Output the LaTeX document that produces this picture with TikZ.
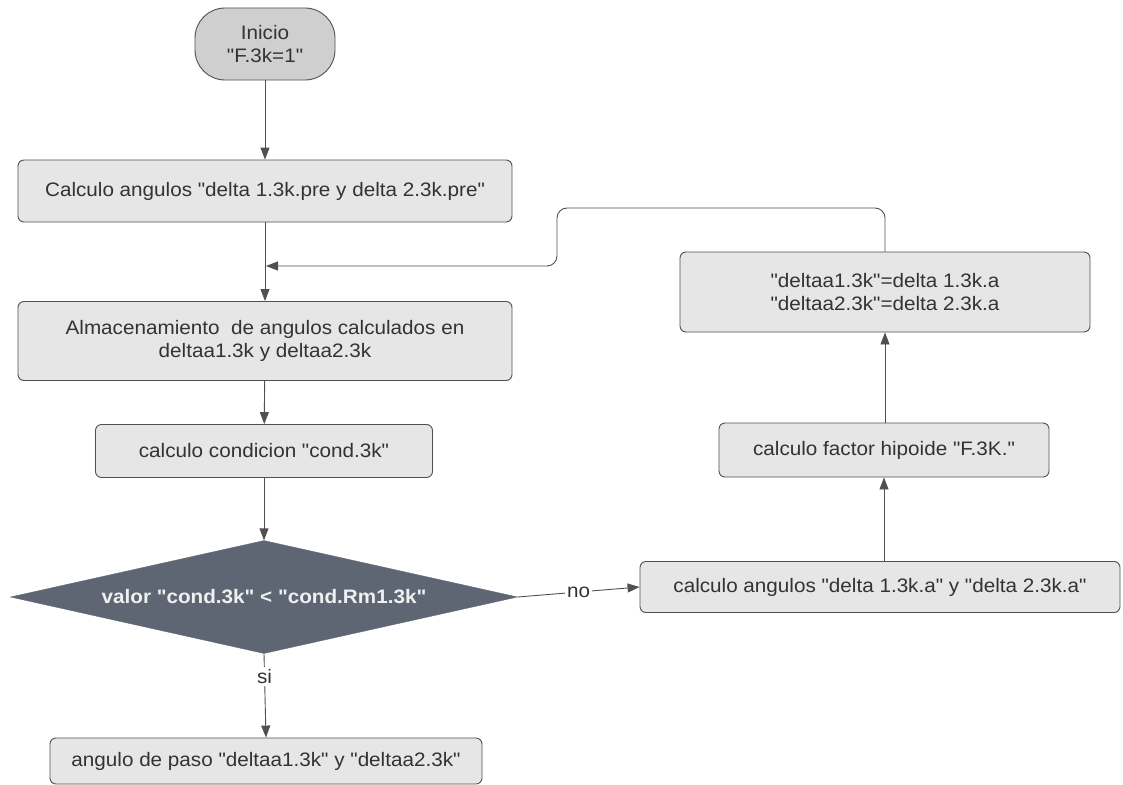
\documentclass[tikz,border=0pt]{standalone}
\usepackage{fontspec}
\setmainfont{Liberation Sans}[Ligatures=TeXOff, FakeStretch=1.06]
\usetikzlibrary{shapes.geometric,arrows.meta,scopes}

\definecolor{boxfill}{HTML}{E6E6E6}
\definecolor{startfill}{HTML}{CFCFCF}
\definecolor{linegray}{HTML}{505050}
\definecolor{txtgray}{HTML}{333333}
\definecolor{decfill}{HTML}{5E6674}

\tikzset{
  proc/.style={draw=linegray, line width=0.9pt, fill=boxfill, rounded corners=6pt,
    text=txtgray, align=center, inner sep=0pt},
  flow/.style={draw=linegray, line width=0.9pt, -{Triangle[length=12pt,width=9pt]}},
  lbl/.style={fill=white, text=txtgray, inner sep=2pt}
}

\begin{document}
\begin{tikzpicture}[x=1pt, y=-1pt, font=\fontsize{19.5}{23}\selectfont]
  \useasboundingbox (0,0) rectangle (1123,784);

  \node[proc, fill=startfill, rounded corners=30pt, minimum width=140pt, minimum height=72pt]
    (inicio) at (265,44) {Inicio\\"F.3k=1"};
  { [proc]
    \node[proc, minimum width=494pt, minimum height=62pt] (calcpre) at (265,191)
      {Calculo angulos "delta 1.3k.pre y delta 2.3k.pre"};
    \node[proc, minimum width=494pt, minimum height=79pt] (almac) at (265,341)
      {Almacenamiento\ \ de angulos calculados en\\deltaa1.3k y deltaa2.3k};
    \node[proc, minimum width=337pt, minimum height=53pt] (cond) at (264,451)
      {calculo condicion "cond.3k"};
    \node[proc, minimum width=432pt, minimum height=46pt] (paso) at (266,761)
      {angulo de paso "deltaa1.3k" y "deltaa2.3k"};
    \node[proc, minimum width=480pt, minimum height=51pt] (calca) at (880,587)
      {calculo angulos "delta 1.3k.a" y "delta 2.3k.a"};
    \node[proc, minimum width=330pt, minimum height=54pt] (factor) at (884,450)
      {calculo factor hipoide "F.3K."};
    \node[proc, minimum width=410pt, minimum height=80pt] (asig) at (885,292)
      {"deltaa1.3k"=delta 1.3k.a\\"deltaa2.3k"=delta 2.3k.a};
  }
  \node[diamond, draw=decfill, fill=decfill, text=white!94!black, font=\fontsize{19.5}{23}\selectfont\bfseries,
    inner sep=0pt, aspect=4.5, minimum width=507pt, minimum height=113pt]
    (valor) at (264,597) {valor "cond.3k" < "cond.Rm1.3k"};

  \coordinate (merge) at (calcpre.south |- 0,266);

  \draw[flow] (inicio) -- (calcpre);
  \draw[flow] (calcpre) -- (almac);
  \draw[flow] (almac) -- (cond);
  \draw[flow] (cond) -- (valor);
  \draw[flow] (valor.east) -- node[lbl] {no} (calca.west);
  \draw[flow] (valor.south) -- node[lbl, pos=0.27] {si} (paso.north);
  \draw[flow] (calca.north -| factor) -- (factor);
  \draw[flow] (factor) -- (asig.south |- factor.north) -- (asig);
  \draw[flow, rounded corners=10pt, shorten >=1pt] (asig.north) |- (557,208) -- (557,266) -- (merge);
\end{tikzpicture}
\end{document}
